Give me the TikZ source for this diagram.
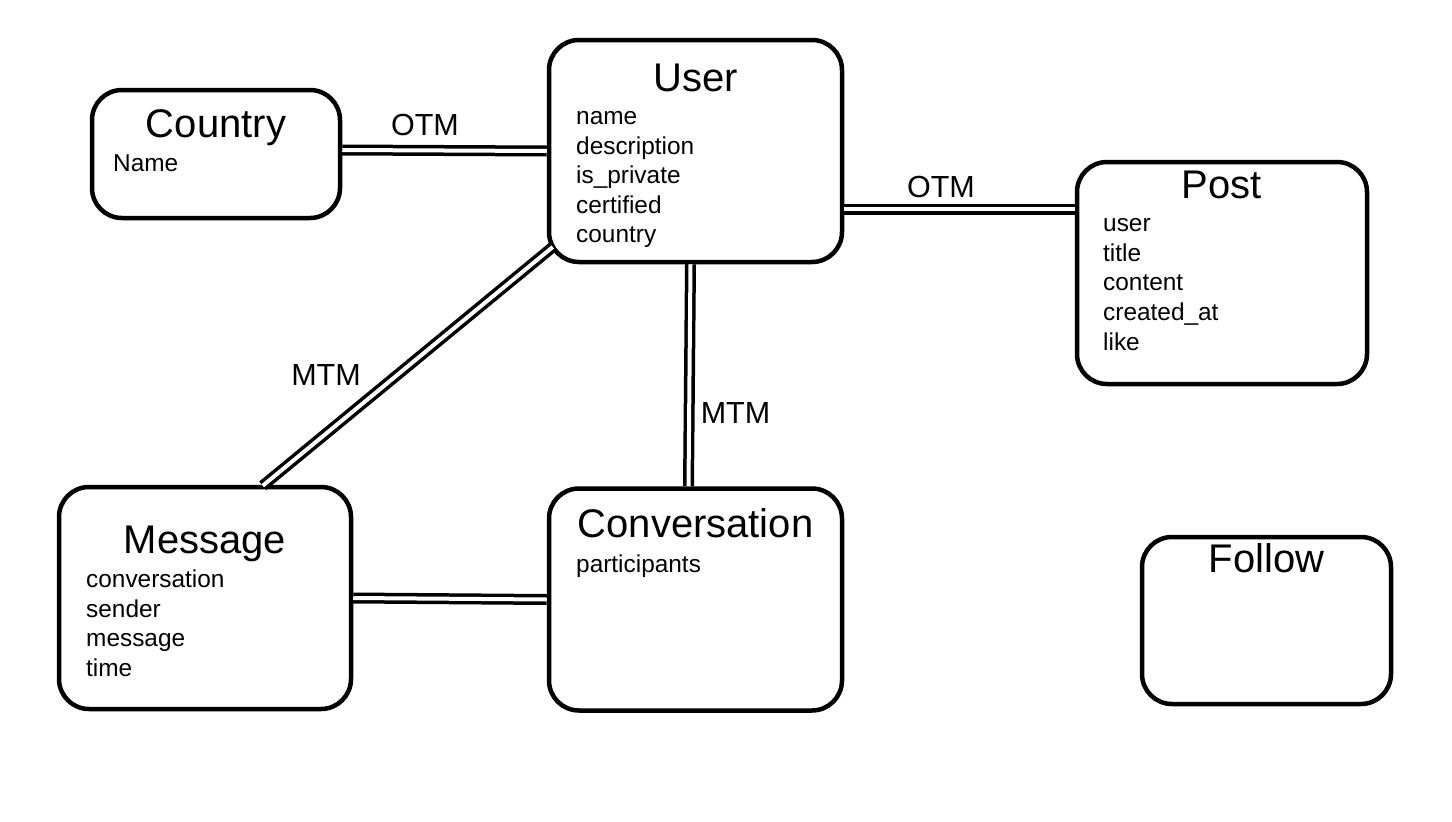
\documentclass[tikz,border=0pt]{standalone}
\usepackage{fontspec}
\setmainfont{Liberation Sans}

\begin{document}
\begin{tikzpicture}[x=1pt,y=-1pt,
    entity/.style={draw,line width=4.5pt,rounded corners=30pt,inner sep=0pt},
    ttl/.style={anchor=base,inner sep=0pt,font=\fontsize{40}{46}\selectfont},
    attr/.style={anchor=base west,inner sep=0pt,font=\fontsize{24.4}{29}\selectfont},
    lbl/.style={anchor=base,inner sep=0pt,font=\fontsize{30.5}{36}\selectfont},
    rel/.style={double,double distance=4pt,line width=3.5pt}]
    \useasboundingbox (0,0) rectangle (1452,822);
    %% entities
    \node[entity,minimum width=248pt,minimum height=128pt] (country) at (216,154) {};
    \node[entity,minimum width=293pt,minimum height=222pt] (user) at (695.5,151) {};
    \node[entity,minimum width=290pt,minimum height=222pt] (post) at (1222,273) {};
    \node[entity,minimum width=292pt,minimum height=222pt] (message) at (205,598) {};
    \node[entity,minimum width=293pt,minimum height=222pt] (conv) at (695.5,599.5) {};
    \node[entity,minimum width=249pt,minimum height=167pt] (follow) at (1266.5,620.5) {};
    %%
    \node[ttl] (countryT) at (216,137) {Country};
    \node[attr] (countryA) at (113,171) {Name};
    %%
    \node[ttl] (userT) at (695.5,91) {User};
    \node[attr] (userA) at (576,124) {name};
    \node[attr] (userB) at (576,154) {description};
    \node[attr] (userC) at (576,183) {is\_private};
    \node[attr] (userD) at (576,213) {certified};
    \node[attr] (userE) at (576,242) {country};
    %%
    \node[ttl] (postT) at (1222,198) {Post};
    \node[attr] (postA) at (1103,231) {user};
    \node[attr] (postB) at (1103,261) {title};
    \node[attr] (postC) at (1103,290) {content};
    \node[attr] (postD) at (1103,320) {created\_at};
    \node[attr] (postE) at (1103,350) {like};
    %%
    \node[ttl] (messageT) at (205,553) {Message};
    \node[attr] (messageA) at (86,587) {conversation};
    \node[attr] (messageB) at (86,617) {sender};
    \node[attr] (messageC) at (86,646) {message};
    \node[attr] (messageD) at (86,676) {time};
    %%
    \node[ttl] (convT) at (695.5,537) {Conversation};
    \node[attr] (convA) at (576,572) {participants};
    %%
    \node[ttl] (followT) at (1266.5,572) {Follow};
    %% relations
    \draw[rel] ([yshift=4pt]country.east) to (user.west);
    \draw[rel] ([yshift=-58pt]user.east) to ([yshift=64pt]post.west);
    \draw[rel] ([shift={(6,96)}]user.west) to ([yshift=-1pt]message.63);
    \draw[rel] ([xshift=-5pt]user.south) to ([xshift=-7pt]conv.north);
    \draw[rel] (message.east) to (conv.west);
    \node[lbl] (otmA) at (425,135) {OTM};
    \node[lbl] (otmB) at (941,197) {OTM};
    \node[lbl] (mtmA) at (326,385) {MTM};
    \node[lbl] (mtmB) at (735.5,423) {MTM};
  \end{tikzpicture}
\end{document}
